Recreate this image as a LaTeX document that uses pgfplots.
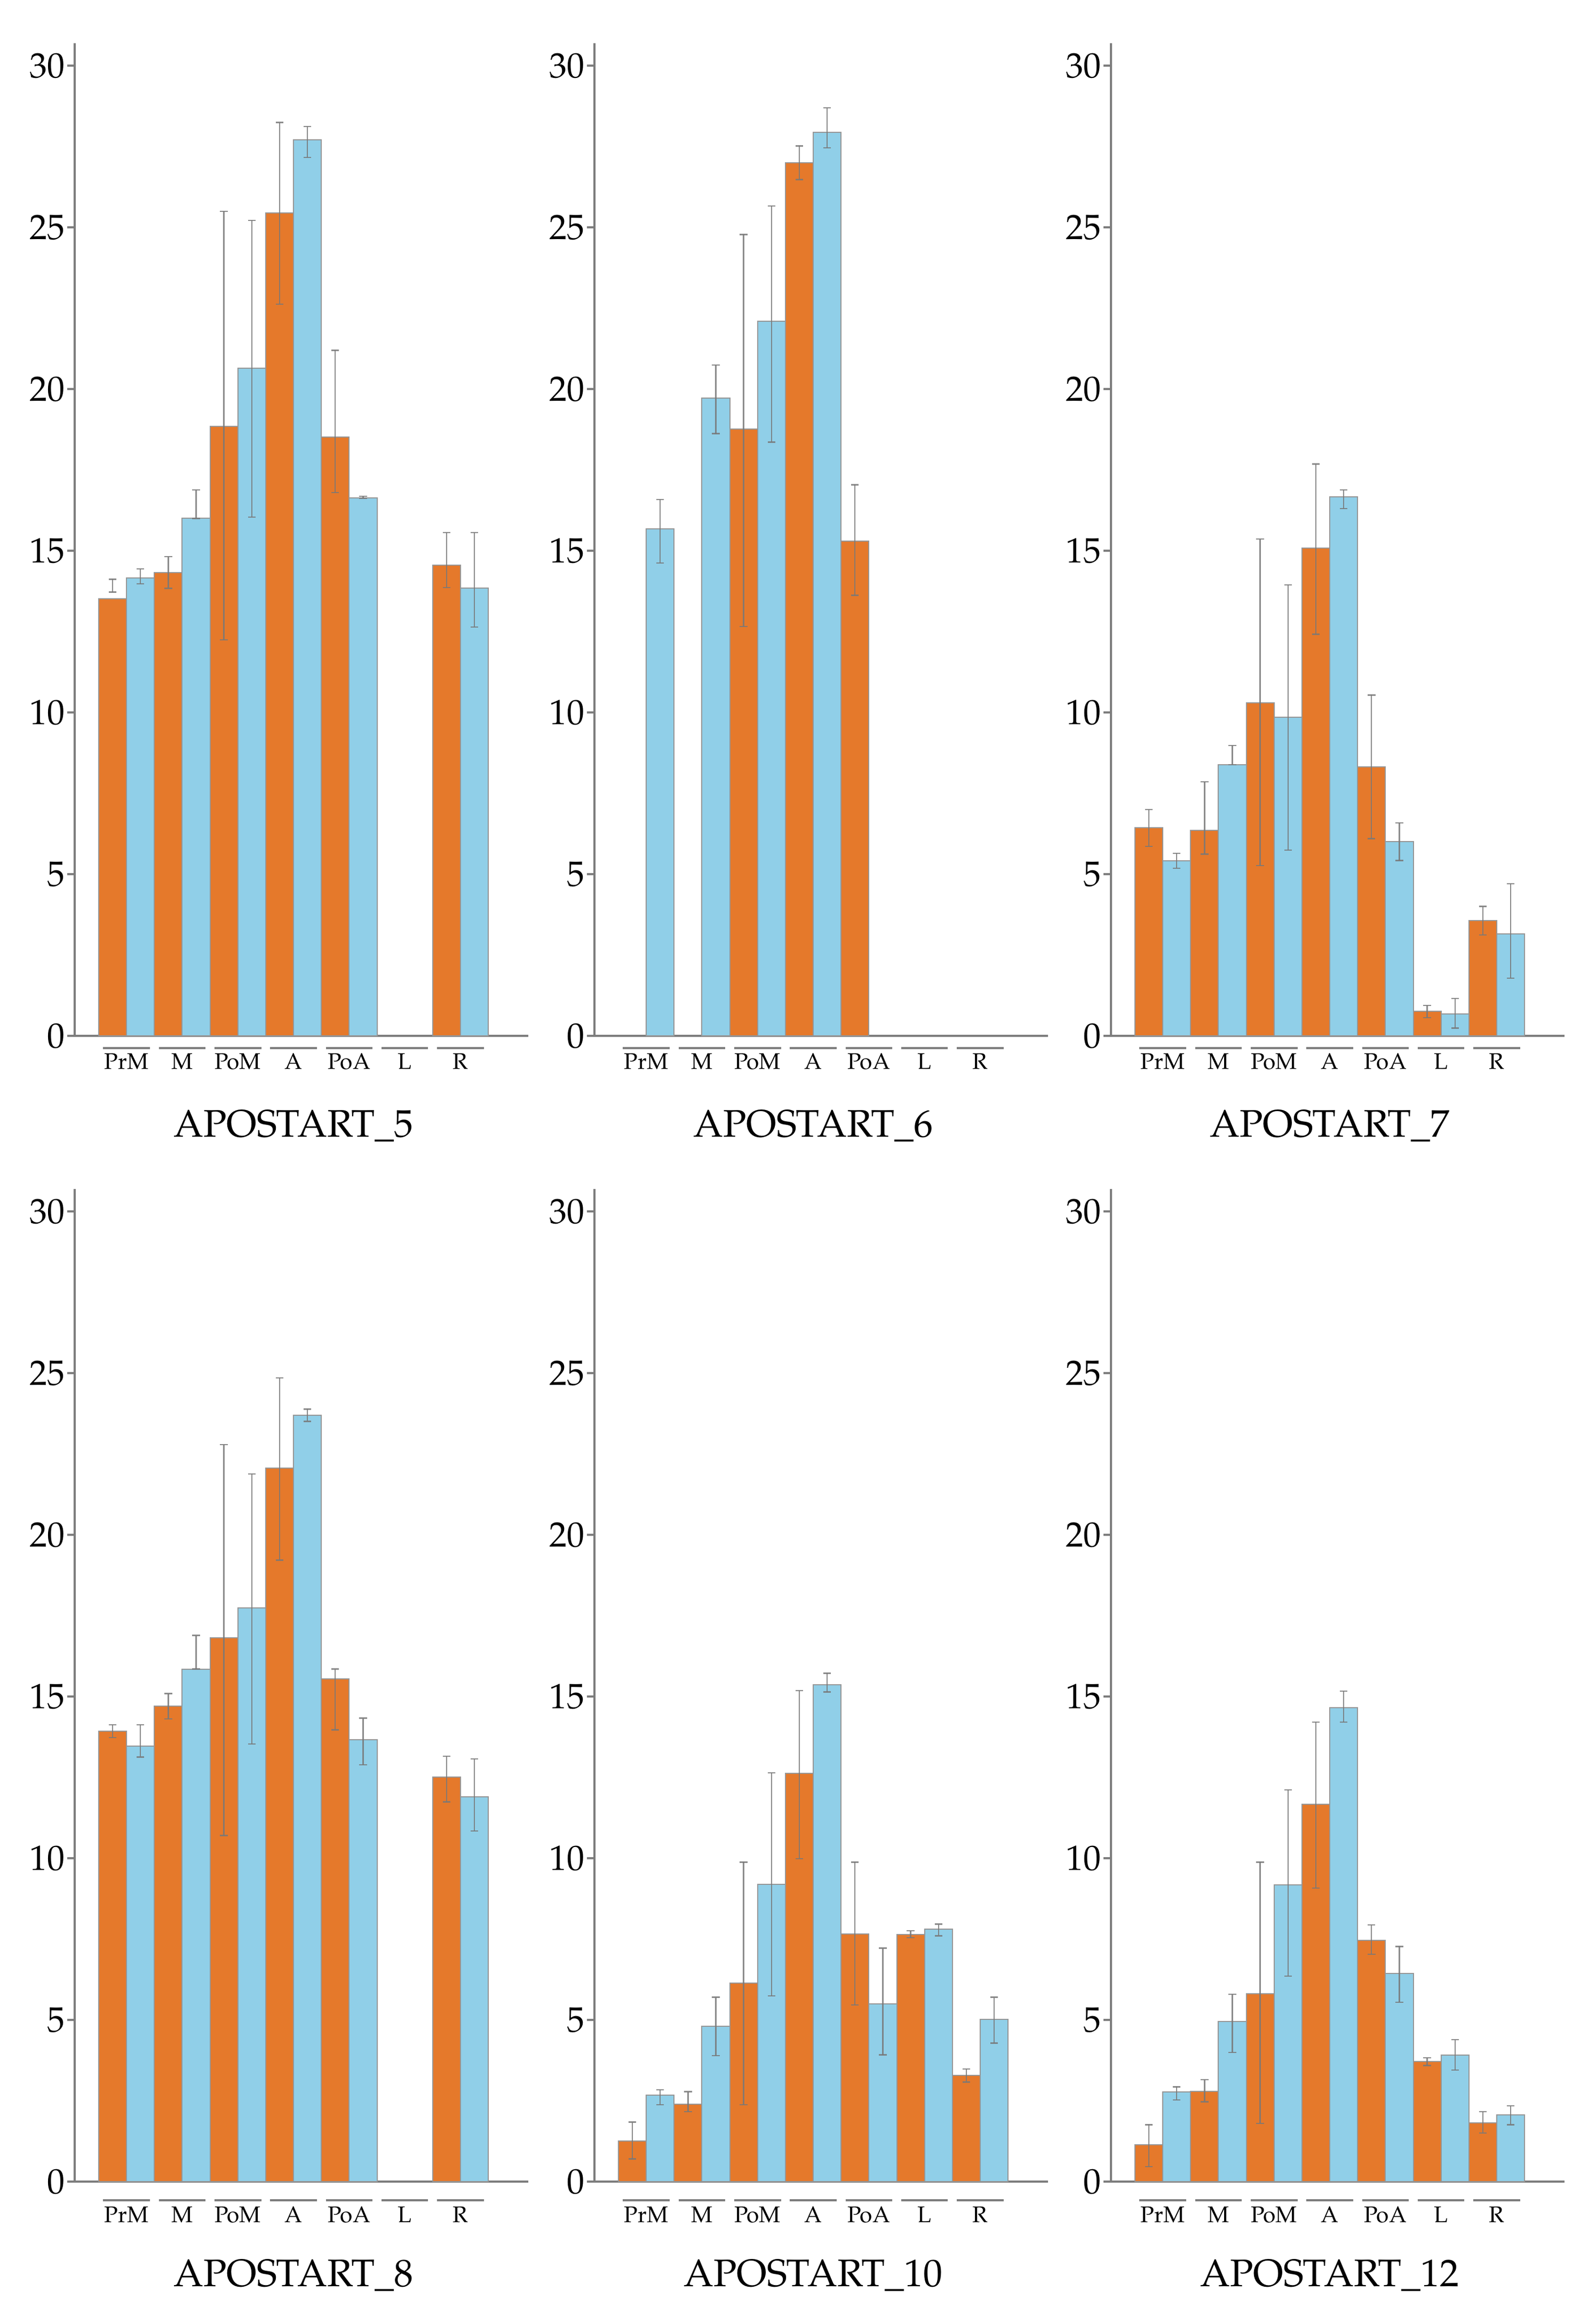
\documentclass[border=0pt]{standalone}
\usepackage{fontspec}
\setmainfont{TeX Gyre Pagella}
\usepackage{pgfplots}
\pgfplotsset{compat=1.18}
\usepackage{pgfplotstable}
\definecolor{orC}{RGB}{229,121,43}
\definecolor{blC}{RGB}{144,207,232}
\definecolor{axC}{RGB}{125,125,125}
\definecolor{edC}{RGB}{150,150,150}
\definecolor{erC}{RGB}{120,120,120}

% ---------- APOSTART_5
\pgfplotstableread{
c y lo hi
0 13.52 13.72 14.12
1 14.32 13.84 14.82
2 18.84 12.24 25.50
3 25.44 22.62 28.24
4 18.52 16.80 21.20
6 14.56 13.86 15.56
}\paO
\pgfplotstableread{
c y lo hi
0 14.16 13.98 14.44
1 16.00 16.00 16.88
2 20.64 16.04 25.22
3 27.70 27.16 28.12
4 16.64 16.62 16.68
6 13.84 12.64 15.56
}\paB
% ---------- APOSTART_6
\pgfplotstableread{
c y lo hi
2 18.76 12.66 24.78
3 27.00 26.48 27.52
4 15.30 13.62 17.04
}\pbO
\pgfplotstableread{
c y lo hi
0 15.68 14.62 16.58
1 19.72 18.62 20.74
2 22.10 18.36 25.66
3 27.94 27.46 28.70
}\pbB
% ---------- APOSTART_7
\pgfplotstableread{
c y lo hi
0 6.44 5.86 7.00
1 6.36 5.62 7.86
2 10.30 5.26 15.36
3 15.08 12.42 17.68
4 8.32 6.10 10.54
5 0.76 0.56 0.94
6 3.56 3.12 4.00
}\pcO
\pgfplotstableread{
c y lo hi
0 5.42 5.18 5.64
1 8.38 8.38 8.98
2 9.86 5.74 13.94
3 16.66 16.30 16.88
4 6.00 5.42 6.58
5 0.68 0.24 1.16
6 3.16 1.78 4.70
}\pcB
% ---------- APOSTART_8
\pgfplotstableread{
c y lo hi
0 13.93 13.73 14.13
1 14.71 14.31 15.09
2 16.81 10.70 22.79
3 22.06 19.22 24.85
4 15.55 13.97 15.85
6 12.51 11.74 13.15
}\pdO
\pgfplotstableread{
c y lo hi
0 13.47 13.13 14.13
1 15.85 15.85 16.89
2 17.74 13.53 21.88
3 23.69 23.51 23.89
4 13.67 12.89 14.33
6 11.90 10.84 13.07
}\pdB
% ---------- APOSTART_10
\pgfplotstableread{
c y lo hi
0 1.26 0.70 1.84
1 2.40 2.16 2.78
2 6.14 2.38 9.88
3 12.62 9.98 15.18
4 7.66 5.46 9.88
5 7.64 7.54 7.76
6 3.28 3.08 3.48
}\peO
\pgfplotstableread{
c y lo hi
0 2.68 2.38 2.84
1 4.80 3.90 5.70
2 9.20 5.74 12.64
3 15.36 15.14 15.72
4 5.50 3.92 7.22
5 7.80 7.60 7.96
6 5.02 4.28 5.70
}\peB
% ---------- APOSTART_12
\pgfplotstableread{
c y lo hi
0 1.14 0.46 1.76
1 2.79 2.47 3.15
2 5.81 1.80 9.88
3 11.66 9.08 14.21
4 7.46 7.03 7.94
5 3.71 3.59 3.83
6 1.82 1.50 2.16
}\pfO
\pgfplotstableread{
c y lo hi
0 2.77 2.53 2.93
1 4.95 3.99 5.79
2 9.18 6.35 12.11
3 14.65 14.21 15.17
4 6.43 5.55 7.27
5 3.91 3.45 4.39
6 2.06 1.76 2.34
}\pfB

\pgfplotsset{
  panel/.style={
    scale only axis, width=212.5pt, height=465.1pt,
    xmin=-0.931, xmax=7.218, ymin=0, ymax=30.7,
    axis x line*=bottom, axis y line*=left,
    axis line style={axC, line width=1pt, -},
    ytick={0,5,...,30},
    /pgf/number format/assume math mode=true,
    tick align=outside, major tick length=3.5pt,
    ytick style={axC, line width=1pt},
    xtick={0,...,6}, xticklabels={PrM,M,PoM,A,PoA,L,R},
    xtick style={draw=none},
    yticklabel style={font=\fontsize{16.5}{20}\selectfont, inner sep=1pt},
    xticklabel style={font=\fontsize{10.6}{12}\selectfont, anchor=base, inner sep=0pt},
    clip=false, anchor=south west,
  },
  toprow/.style={xticklabel style={yshift=-12pt}},
  botrow/.style={xticklabel style={yshift=-15.5pt}},
  barO/.style={ybar, bar width=0.5, bar shift=0pt, fill=orC, draw=edC, line width=0.5pt},
  barB/.style={ybar, bar width=0.5, bar shift=0pt, fill=blC, draw=edC, line width=0.5pt},
  errp/.style={draw=none, mark=none, forget plot,
    error bars/.cd, y dir=both, y explicit,
    error bar style={draw=erC, line width=0.6pt, opacity=0.85},
    error mark options={rotate=90, mark size=1.8pt, draw=erC, line width=0.6pt, opacity=0.85}},
}

\newcommand\bars[2]{%
  \addplot[barO] table[x expr=\thisrow{c}-0.25, y=y] {#1};
  \addplot[barB] table[x expr=\thisrow{c}+0.25, y=y] {#2};
  \addplot[errp] table[x expr=\thisrow{c}-0.25, y expr=(\thisrow{lo}+\thisrow{hi})/2, y error expr=(\thisrow{hi}-\thisrow{lo})/2] {#1};
  \addplot[errp] table[x expr=\thisrow{c}+0.25, y expr=(\thisrow{lo}+\thisrow{hi})/2, y error expr=(\thisrow{hi}-\thisrow{lo})/2] {#2};
}
\newcommand\decor[3]{%
  \pgfplotsinvokeforeach{0,...,6}{%
    \draw[axC, line width=1pt] ([yshift=-#2]axis cs:##1-0.42,0) -- ([yshift=-#2]axis cs:##1+0.42,0);}
  \node[anchor=base, inner sep=0pt, font=\fontsize{18}{20}\selectfont] at ([yshift=-#3]axis cs:3,0) {#1};
}

\begin{document}
\begin{tikzpicture}
\path[use as bounding box] (0,0) rectangle (747.5pt,-1084.5pt);

\begin{axis}[panel, toprow, at={(35pt,-485.25pt)}]
\bars{\paO}{\paB}
\decor{APOSTART\_5}{5.75pt}{47.25pt}
\end{axis}
\begin{axis}[panel, toprow, at={(278.5pt,-485.25pt)}]
\bars{\pbO}{\pbB}
\decor{APOSTART\_6}{5.75pt}{47.25pt}
\end{axis}
\begin{axis}[panel, toprow, at={(520.5pt,-485.25pt)}]
\bars{\pcO}{\pcB}
\decor{APOSTART\_7}{5.75pt}{47.25pt}
\end{axis}

\begin{axis}[panel, botrow, at={(35pt,-1022pt)}]
\bars{\pdO}{\pdB}
\decor{APOSTART\_8}{8.75pt}{49pt}
\end{axis}
\begin{axis}[panel, botrow, at={(278.5pt,-1022pt)}]
\bars{\peO}{\peB}
\decor{APOSTART\_10}{8.75pt}{49pt}
\end{axis}
\begin{axis}[panel, botrow, at={(520.5pt,-1022pt)}]
\bars{\pfO}{\pfB}
\decor{APOSTART\_12}{8.75pt}{49pt}
\end{axis}
\end{tikzpicture}
\end{document}
